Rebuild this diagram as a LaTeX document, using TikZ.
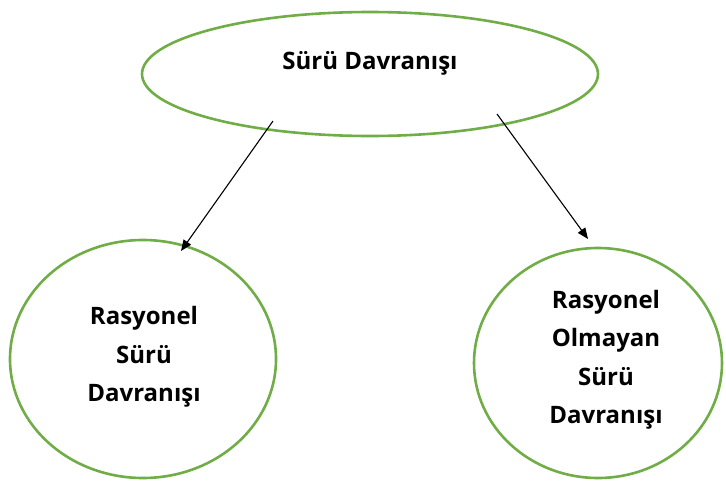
\documentclass[tikz,border=0pt]{standalone}
\usepackage{fontspec}
\setmainfont{Open Sans}
\usetikzlibrary{shapes.geometric,arrows.meta}
\definecolor{leafgreen}{RGB}{112,173,71}
\tikzset{
  bubble/.style = {draw = leafgreen, line width = 2.6, ellipse, inner sep = 0},
  word/.style = {align = center, font = \bfseries\fontsize{24}{38.5}\selectfont},
  link/.style = {-{Triangle[length = 11, width = 9]}, line width = 1.1}
}
\begin{document}
\begin{tikzpicture}[x = 1pt, y = -1pt]
\useasboundingbox (0,0) rectangle (726,485);
\node[bubble, minimum width = 456, minimum height = 124] (herd) at (370,74) {};
\node[bubble, minimum width = 266, minimum height = 238] (rational) at (143,359) {};
\node[bubble, minimum width = 248, minimum height = 230] (irrational) at (598,363) {};
\node[word] (herdtxt) at (370,63) {Sürü Davranışı};
\node[word] (rationaltxt) at (144,357) {Rasyonel\\Sürü\\Davranışı};
\node[word] (irrationaltxt) at (606,360) {Rasyonel\\Olmayan\\Sürü\\Davranışı};
\coordinate (l1) at (273,121);
\coordinate (l2) at (181,251);
\coordinate (r1) at (497,114);
\coordinate (r2) at (588,239);
\draw[link] (l1) -- (l2);
\draw[link] (r1) -- (r2);
\end{tikzpicture}
\end{document}
